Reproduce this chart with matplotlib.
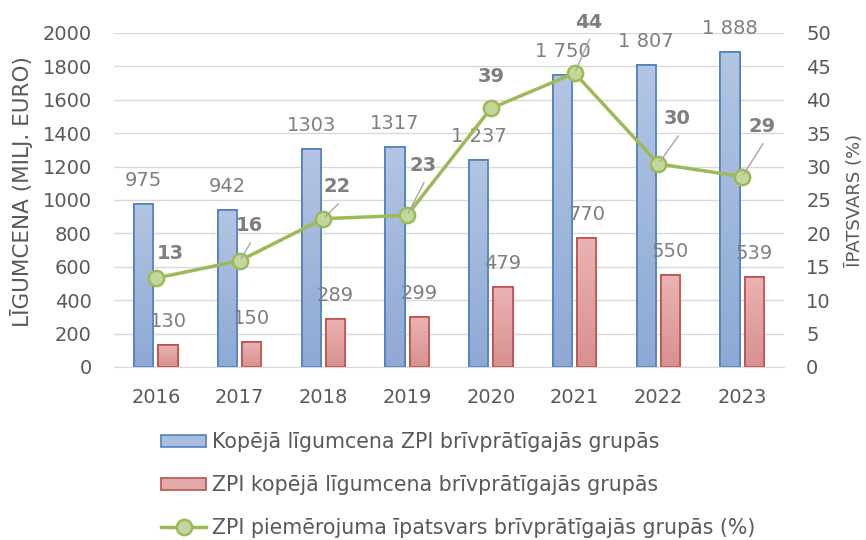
import numpy as np
import matplotlib.pyplot as plt
from matplotlib.lines import Line2D

plt.rcParams['font.family'] = ['DejaVu Sans']

years = ['2016', '2017', '2018', '2019', '2020', '2021', '2022', '2023']
total = [975, 942, 1303, 1317, 1237, 1750, 1807, 1888]
total_lbl = ['975', '942', '1303', '1317', '1 237', '1 750', '1 807', '1 888']
zpi = [130, 150, 289, 299, 479, 770, 550, 539]
share = [13.3, 15.9, 22.2, 22.7, 38.7, 44.0, 30.4, 28.5]
share_lbl = ['13', '16', '22', '23', '39', '44', '30', '29']

# label offsets (pixels) for the share labels, and whether a leader line is drawn
lbl_off = [(15, 25), (10, 35), (14, 32), (16, 50), (0, 32), (14, 51), (19, 45), (20, 50)]
leader = [False, True, True, True, False, True, True, True]

grey = '#595959'
blue_edge, blue_top, blue_bot = '#4f81bd', '#b3c5e3', '#8ea9d5'
red_edge, red_top, red_bot = '#c0504d', '#eab3b3', '#d99090'
green, green_face = '#9bbb59', '#c3d69b'
fs = 14

fig = plt.figure(figsize=(8.66, 5.4), dpi=100)
ax = fig.add_axes([0.1316, 0.3204, 0.7737, 0.6185])
ax2 = ax.twinx()

x = np.arange(len(years))
w = 0.23
b1 = ax.bar(x - 0.145, total, w, color='#9fb6da', edgecolor=blue_edge, linewidth=1.2, zorder=2)
b2 = ax.bar(x + 0.145, zpi, w, color='#e0a3a3', edgecolor=red_edge, linewidth=1.2, zorder=2)

ax.set_xlim(-0.5, len(years) - 0.5)
ax.set_ylim(0, 2000)

# vertical gradient inside the bars
for bars, top, bot in [(b1, blue_top, blue_bot), (b2, red_top, red_bot)]:
    cmap = plt.matplotlib.colors.LinearSegmentedColormap.from_list('g', [bot, top])
    grad = np.linspace(0, 1, 100).reshape(-1, 1)
    for r in bars:
        x0, y0 = r.get_x(), r.get_y()
        im = ax.imshow(grad, cmap=cmap, origin='lower', aspect='auto',
                       extent=[x0, x0 + r.get_width(), y0, y0 + r.get_height()], zorder=2.1)
        im.set_clip_path(r)
        r.set_facecolor('none')
        ed = plt.Rectangle((x0, y0), r.get_width(), r.get_height(), fill=False,
                           edgecolor=r.get_edgecolor(), linewidth=1.2, zorder=2.2)
        ax.add_patch(ed)

ax.set_xlim(-0.5, len(years) - 0.5)
ax.set_ylim(0, 2000)
ax.set_yticks(np.arange(0, 2001, 200))
ax.set_xticks(x)
ax.set_xticklabels(years)
ax.grid(axis='y', color='#d9d9d9', linewidth=1, zorder=0)
ax.set_axisbelow(True)
for s in ['top', 'left', 'right']:
    ax.spines[s].set_visible(False)
ax.spines['bottom'].set_color('#d9d9d9')
ax.tick_params(axis='both', length=0, colors=grey, labelsize=fs)
ax.tick_params(axis='x', pad=15)
ax.tick_params(axis='y', pad=16)
ax.set_ylabel('LĪGUMCENA (MILJ. EURO)', color=grey, fontsize=15.5)
ax.yaxis.set_label_coords(-0.121, 0.524)

for i in range(len(years)):
    ax.annotate(total_lbl[i], (x[i] - 0.145, total[i]), xytext=(0, 14), textcoords='offset pixels',
                ha='center', va='bottom', color='#7f7f7f', fontsize=fs, zorder=3)
    ax.annotate(str(zpi[i]), (x[i] + 0.145, zpi[i]), xytext=(0, 14), textcoords='offset pixels',
                ha='center', va='bottom', color='#7f7f7f', fontsize=fs, zorder=3)

ax2.plot(x, share, color=green, linewidth=2.5, marker='o', markersize=11,
         markerfacecolor=green_face, markeredgecolor=green, markeredgewidth=1.8, zorder=4)
ax2.set_ylim(0, 50)
ax2.set_yticks(np.arange(0, 51, 5))
for s in ['top', 'left', 'right', 'bottom']:
    ax2.spines[s].set_visible(False)
ax2.tick_params(axis='y', length=0, colors=grey, labelsize=fs, pad=16)
ax2.set_ylabel('ĪPATSVARS (%)', color=grey, fontsize=13, labelpad=11)

for i in range(len(years)):
    dx, dy = lbl_off[i]
    ax2.annotate(share_lbl[i], (x[i], share[i]), xytext=(dx, dy), textcoords='offset pixels',
                 ha='center', va='center', color='#7f7f7f', fontsize=fs, fontweight='bold', zorder=5)
    if leader[i]:
        ax2.annotate('', (x[i], share[i]), xytext=(dx + 1, dy - 17), textcoords='offset pixels',
                     arrowprops=dict(arrowstyle='-', color='#a6a6a6', linewidth=1, shrinkA=0, shrinkB=2),
                     zorder=5)

handles = [plt.Rectangle((0, 0), 1, 1, facecolor='#a9bde0', edgecolor=blue_edge, linewidth=1.2),
           plt.Rectangle((0, 0), 1, 1, facecolor='#e3a8a8', edgecolor=red_edge, linewidth=1.2),
           Line2D([], [], color=green, linewidth=2.5, marker='o', markersize=11,
                  markerfacecolor=green_face, markeredgecolor=green, markeredgewidth=1.8)]
labels = ['Kopējā līgumcena ZPI brīvprātīgajās grupās',
          'ZPI kopējā līgumcena brīvprātīgajās grupās',
          'ZPI piemērojuma īpatsvars brīvprātīgajās grupās (%)']
fig.legend(handles, labels, loc='upper left', bbox_to_anchor=(0.186, 0.2), frameon=False,
           fontsize=14.8, labelcolor=grey, handlelength=2.2, handleheight=0.55, handletextpad=0.3,
           labelspacing=1.12, borderpad=0, borderaxespad=0)

fig.savefig('out.png', dpi=100)
